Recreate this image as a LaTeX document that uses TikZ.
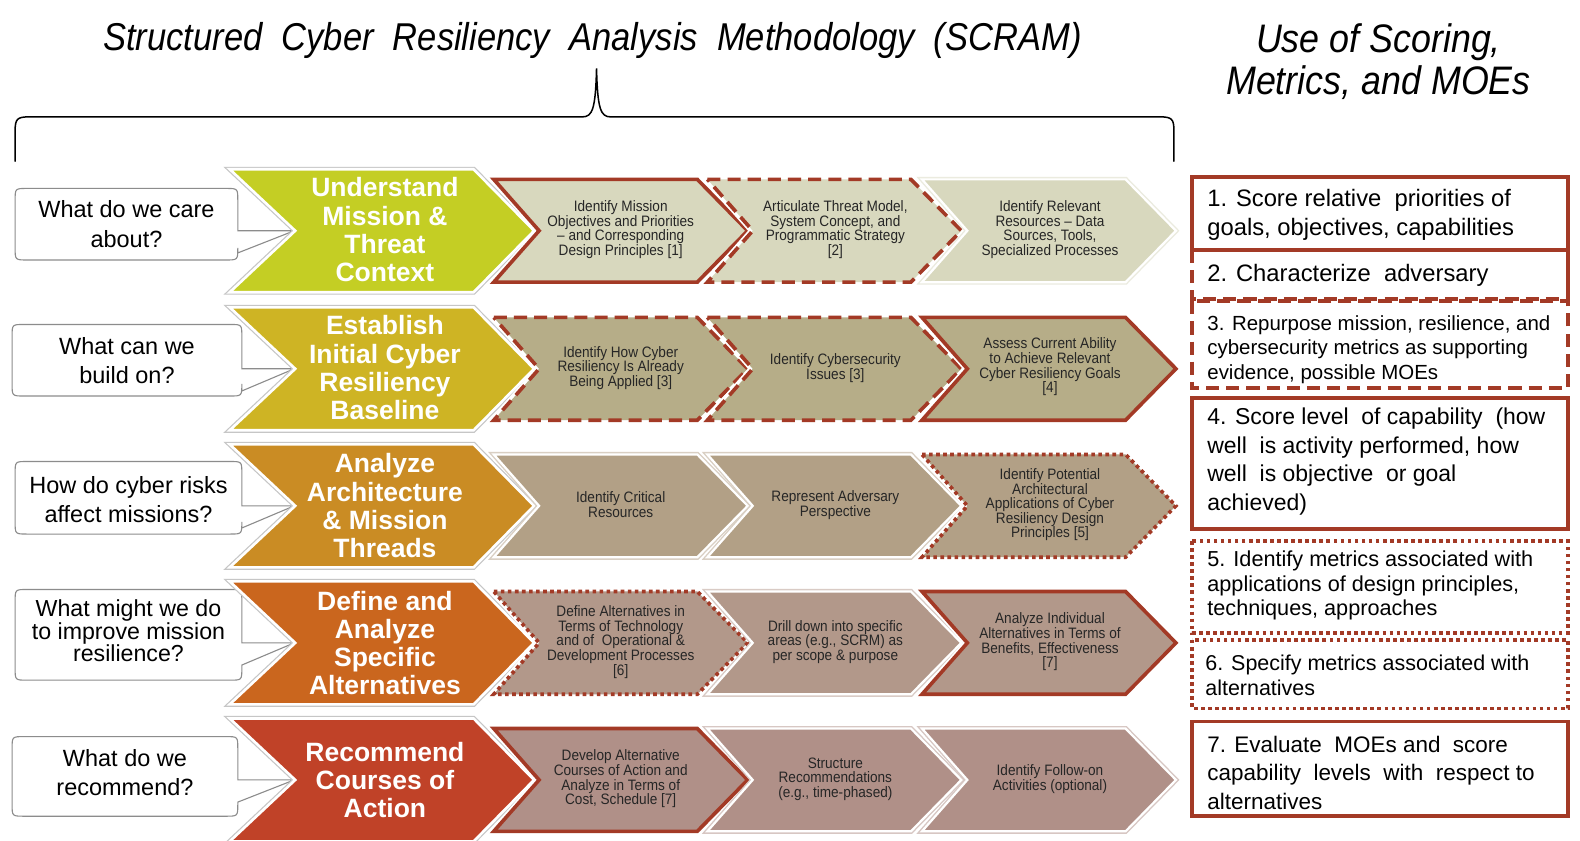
\documentclass[tikz,border=0pt]{standalone}
\usepackage{fontspec}
\setmainfont{Liberation Sans}
\newfontfamily\narrowfont[FakeStretch=0.9]{Liberation Sans}
\newfontfamily\titlefont[FakeStretch=0.89]{Liberation Sans}
\newfontfamily\titlefontb[FakeStretch=0.9]{Liberation Sans}
\usetikzlibrary{calc}
\definecolor{bord}{RGB}{163,58,38}
\definecolor{bigA}{RGB}{196,206,36}
\definecolor{bigB}{RGB}{206,180,36}
\definecolor{bigC}{RGB}{202,140,36}
\definecolor{bigD}{RGB}{202,102,30}
\definecolor{bigE}{RGB}{192,66,40}
\definecolor{smA}{RGB}{216,216,190}
\definecolor{smB}{RGB}{182,173,136}
\definecolor{smC}{RGB}{178,160,134}
\definecolor{smD}{RGB}{178,152,138}
\definecolor{smE}{RGB}{176,144,136}
\definecolor{callgray}{RGB}{140,140,140}
% #1 options, #2 x0, #3 yc, #4 width, #5 half height, #6 notch, #7 tip depth
\newcommand{\chevshape}[7]{%
  \path[#1] (#2,{#3-#5}) -- ({#2+#4-#7},{#3-#5}) -- ({#2+#4},#3) -- ({#2+#4-#7},{#3+#5}) -- (#2,{#3+#5}) -- ({#2+#6},#3) -- cycle;}
\newcommand{\bigchev}[2]{% color, yc
  \chevshape{draw=gray!45, line width=5pt, line join=miter}{228}{#2}{302}{61}{65}{60}
  \chevshape{draw=white, line width=2.6pt, fill=#1, line join=miter}{228}{#2}{302}{61}{65}{60}}
\newcommand{\smplain}[3]{% color, x0, yc
  \chevshape{draw=#1!50!white, line width=5pt, line join=miter}{#2}{#3}{252}{51}{45}{50}
  \chevshape{draw=white, line width=2.2pt, fill=#1, line join=miter}{#2}{#3}{252}{51}{45}{50}}
\newcommand{\smred}[4]{% color, x0, yc, style
  \chevshape{draw=white, line width=7pt, line join=miter}{#2}{#3}{252}{51}{45}{50}
  \chevshape{fill=#1}{#2}{#3}{252}{51}{45}{50}
  \chevshape{draw=bord, line width=3.6pt, line join=miter, #4}{#2}{#3}{252}{51}{45}{50}}
% callout: xl, yt, xr, yb, yc
\newcommand{\calloutshape}[5]{%
  \draw[callbox] ({#1+12},#2) -- ({#3-12},#2) .. controls (#3,#2) .. (#3,{#2+12}) -- (#3,#5) -- (292,#5) -- (#3,{#5+22}) -- (#3,{#4-12}) .. controls (#3,#4) .. ({#3-12},#4) -- ({#1+12},#4) .. controls (#1,#4) .. (#1,{#4-12}) -- (#1,{#2+12}) .. controls (#1,#2) .. ({#1+12},#2) -- cycle;}
\tikzset{
  callbox/.style={draw=callgray, line width=1.1pt, fill=white},
  calltext/.style={align=center, inner sep=0pt, font=\fontsize{23.3}{29}\selectfont},
  bigtext/.style={align=center, inner sep=0pt, text=white, font=\bfseries\fontsize{26.3}{28}\selectfont},
  smtext/.style={align=center, inner sep=0pt, text=black!85, font=\narrowfont\fontsize{15}{14.5}\selectfont},
  boxtext/.style={anchor=west, align=left, inner sep=0pt, font=\fontsize{23.6}{29}\selectfont},
  boxtextsm/.style={anchor=west, align=left, inner sep=0pt, font=\fontsize{20.3}{24.5}\selectfont},
  solidbox/.style={draw=bord, line width=3.8pt, fill=white},
  dashbox/.style={draw=bord, line width=3.8pt, dash pattern=on 13pt off 7pt},
  dotbox/.style={draw=bord, line width=3.6pt, dash pattern=on 3.6pt off 3.4pt},
}
\begin{document}
\begin{tikzpicture}[x=1pt,y=-1pt]
\useasboundingbox[fill=white] (0,0) rectangle (1568,834);
% titles
\node[font=\titlefont\itshape\fontsize{38.5}{44}\selectfont, inner sep=0pt] (title) at (588,40) {Structured\ \ Cyber\ \ Resiliency\ \ Analysis\ \ Methodology\ \ (SCRAM)};
\node[font=\titlefontb\itshape\fontsize{39.5}{42}\selectfont, align=center, inner sep=0pt] (title2) at (1368,61) {Use of Scoring,\\Metrics, and MOEs};
% brace
\draw[line width=1.5pt, line cap=round] (15,160) -- (15,130) .. controls (15,118) and (17,116) .. (29,116) -- (578,116) .. controls (588,116) and (591,108) .. (592,68) .. controls (593,108) and (596,116) .. (606,116) -- (1151,116) .. controls (1163,116) and (1165,118) .. (1165,130) -- (1165,160);
% callouts
\calloutshape{15}{187}{236}{258}{229}
\node[calltext] (q1) at (125.5,222.5) {What do we care\\about?};
\calloutshape{12}{322}{240}{393}{366}
\node[calltext] (q2) at (126,357.5) {What can we\\build on?};
\calloutshape{15}{458}{240}{530}{502}
\node[calltext] (q3) at (127.5,496) {How do cyber risks\\affect missions?};
\calloutshape{15}{585}{240}{675}{638}
\node[calltext, font=\fontsize{23}{22}\selectfont] (q4) at (127.5,626) {What might we do\\to improve mission\\resilience?};
\calloutshape{12}{731}{236}{810}{774}
\node[calltext] (q5) at (124,767) {What do we\\recommend?};
% big chevrons
\bigchev{bigA}{229}
\bigchev{bigB}{366}
\bigchev{bigC}{502}
\bigchev{bigD}{638}
\bigchev{bigE}{774}
\node[bigtext] (h1) at (382,228) {Understand\\Mission \&\\Threat\\Context};
\node[bigtext] (h2) at (382,365) {Establish\\Initial Cyber\\Resiliency\\Baseline};
\node[bigtext] (h3) at (382,502) {Analyze\\Architecture\\\& Mission\\Threads};
\node[bigtext] (h4) at (382,638) {Define and\\Analyze\\Specific\\Alternatives};
\node[bigtext] (h5) at (382,774) {Recommend\\Courses of\\Action};
% row 1
\smred{smA}{490}{229}{}
\smred{smA}{702}{229}{dash pattern=on 13pt off 7pt}
\smplain{smA}{915}{229}
\node[smtext] (s11) at (616,228) {Identify Mission\\Objectives and Priorities\\– and Corresponding\\Design Principles [1]};
\node[smtext] (s12) at (829,228) {Articulate Threat Model,\\System Concept, and\\Programmatic Strategy\\{[2]}};
\node[smtext] (s13) at (1042,228) {Identify Relevant\\Resources – Data\\Sources, Tools,\\Specialized Processes};
% row 2
\smred{smB}{490}{366}{dash pattern=on 13pt off 7pt}
\smred{smB}{702}{366}{dash pattern=on 13pt off 7pt}
\smred{smB}{915}{366}{}
\node[smtext] (s21) at (616,365) {Identify How Cyber\\Resiliency Is Already\\Being Applied [3]};
\node[smtext] (s22) at (829,365) {Identify Cybersecurity\\Issues [3]};
\node[smtext] (s23) at (1042,364) {Assess Current Ability\\to Achieve Relevant\\Cyber Resiliency Goals\\{[4]}};
% row 3
\smplain{smC}{490}{502}
\smplain{smC}{702}{502}
\smred{smC}{915}{502}{dash pattern=on 3.6pt off 3.4pt}
\node[smtext] (s31) at (616,501) {Identify Critical\\Resources};
\node[smtext] (s32) at (829,501) {Represent Adversary\\Perspective};
\node[smtext] (s33) at (1042,501) {Identify Potential\\Architectural\\Applications of Cyber\\Resiliency Design\\Principles [5]};
% row 4
\smred{smD}{490}{638}{dash pattern=on 3.6pt off 3.4pt}
\smplain{smD}{702}{638}
\smred{smD}{915}{638}{}
\node[smtext] (s41) at (616,637) {Define Alternatives in\\Terms of Technology\\and of\ \ Operational \&\\Development Processes\\{[6]}};
\node[smtext] (s42) at (829,637) {Drill down into specific\\areas (e.g., SCRM) as\\per scope \& purpose};
\node[smtext] (s43) at (1042,637) {Analyze Individual\\Alternatives in Terms of\\Benefits, Effectiveness\\{[7]}};
% row 5
\smred{smE}{490}{774}{}
\smplain{smE}{702}{774}
\smplain{smE}{915}{774}
\node[smtext] (s51) at (616,773) {Develop Alternative\\Courses of Action and\\Analyze in Terms of\\Cost, Schedule [7]};
\node[smtext] (s52) at (829,773) {Structure\\Recommendations\\(e.g., time-phased)};
\node[smtext] (s53) at (1042,773) {Identify Follow-on\\Activities (optional)};
% right boxes
\draw[dashbox] (1183,248) -- (1183,297) -- (1556,297);
\draw[bord, line width=3.8pt] (1556,248) -- (1556,297);
\draw[dashbox] (1183,299) rectangle (1556,385);
\draw[solidbox] (1183,176) rectangle (1556,248);
\draw[solidbox] (1183,395) rectangle (1556,525);
\draw[dotbox] (1183,537) rectangle (1556,628);
\draw[dotbox] (1183,635) rectangle (1556,703);
\draw[solidbox] (1183,716) rectangle (1556,810);
\node[boxtext] (m1) at (1198,213) {1. Score relative\ \ priorities of\\goals,\ objectives,\ capabilities};
\node[boxtext] (m2) at (1198,273) {2. Characterize\ \ adversary};
\node[boxtextsm] (m3) at (1198,347) {3. Repurpose mission, resilience, and\\cybersecurity metrics as supporting\\evidence, possible MOEs};
\node[boxtext, font=\fontsize{22.8}{28.5}\selectfont] (m4) at (1198,458) {4. Score level\ \ of capability\ \ (how\\well\ \ is activity performed, how\\well\ \ is objective\ \ or goal\\achieved)};
\node[boxtextsm, font=\fontsize{21.5}{24.5}\selectfont] (m5) at (1198,581) {5. Identify metrics associated with\\applications of design principles,\\techniques, approaches};
\node[boxtextsm, font=\fontsize{21.3}{24.5}\selectfont] (m6) at (1196,670) {6. Specify metrics associated with\\alternatives};
\node[boxtext, font=\fontsize{22.3}{28.5}\selectfont] (m7) at (1198,767) {7. Evaluate\ \ MOEs and\ \ score\\capability\ \ levels\ \ with\ \ respect to\\alternatives};
\end{tikzpicture}
\end{document}
